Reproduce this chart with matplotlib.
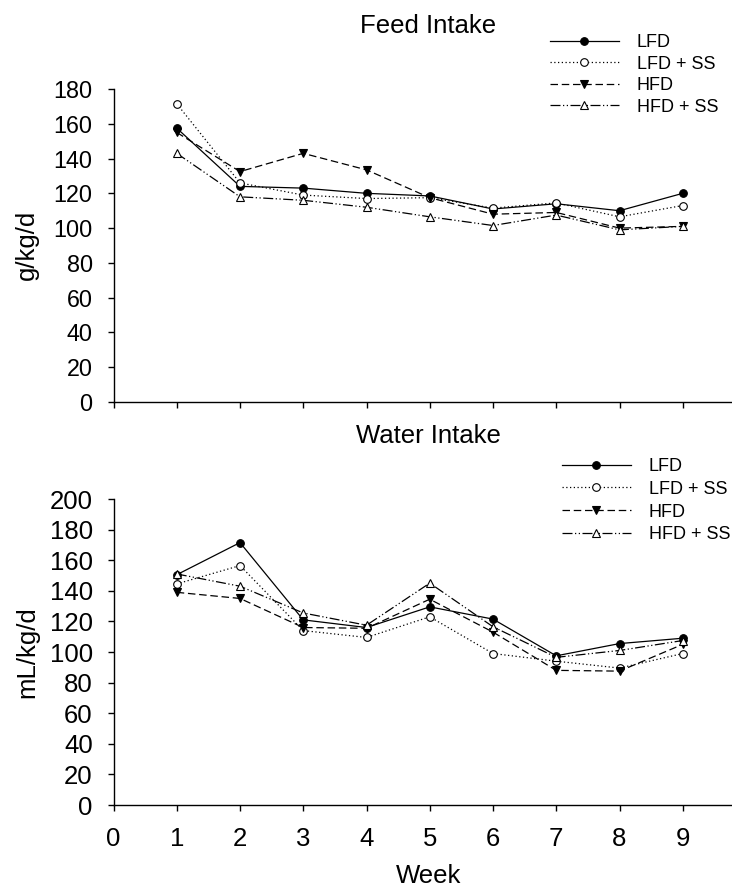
import matplotlib
matplotlib.use('Agg')
import matplotlib.pyplot as plt

# Data
weeks = [1, 2, 3, 4, 5, 6, 7, 8, 9]
labels = ['LFD', 'LFD + SS', 'HFD', 'HFD + SS']

feed_lfd = [157.5, 124, 123, 120, 118.5, 111, 114, 110, 120]
feed_lfd_ss = [171.5, 126, 119, 117, 117.5, 111.5, 114.5, 106.5, 113]
feed_hfd = [155, 132.5, 143, 133.5, 117.5, 108, 109, 100, 101]
feed_hfd_ss = [143, 118, 116, 112, 106.5, 101.5, 107.5, 99, 101]

water_lfd = [150.5, 171.5, 121, 116, 129.5, 121.5, 97.5, 105.5, 109]
water_lfd_ss = [144.5, 156.5, 114, 109.5, 123, 99, 94, 89.5, 99]
water_hfd = [139, 135, 116, 115.5, 134.5, 113, 88, 87.5, 105]
water_hfd_ss = [151, 143, 125.5, 117.5, 145, 116.5, 96.5, 101, 107.5]

# Styles
plt.rcParams['font.family'] = ['Liberation Sans', 'DejaVu Sans']
styles = [
    dict(linestyle='-', marker='o', markerfacecolor='black'),
    dict(linestyle=(0, (1, 2)), marker='o', markerfacecolor='white'),
    dict(linestyle=(0, (6, 3)), marker='v', markerfacecolor='black'),
    dict(linestyle=(0, (8, 2, 1, 2, 1, 2)), marker='^', markerfacecolor='white'),
]

W, H = 732.0, 888.0
fig = plt.figure(figsize=(W / 100, H / 100), dpi=100)
left = 113.5 / W
width = 632.5 / W
ax1 = fig.add_axes([left, 1 - 402 / H, width, 313 / H])
ax2 = fig.add_axes([left, 1 - 805 / H, width, 306 / H])


def draw(ax, series, ymax, tick_fs, legend_anchor, spacing):
    for values, st, lab in zip(series, styles, labels):
        ax.plot(weeks, values, color='black', linewidth=0.9, markersize=5.5,
                markeredgecolor='black', markeredgewidth=0.8, label=lab, **st)
    ax.set_xlim(0, 10)
    ax.set_ylim(0, ymax)
    ax.set_xticks(range(0, 11))
    ax.set_yticks(range(0, ymax + 1, 20))
    for s in ['top', 'right']:
        ax.spines[s].set_visible(False)
    for s in ['left', 'bottom']:
        ax.spines[s].set_linewidth(1.0)
    ax.tick_params(axis='y', direction='out', length=4, width=1, pad=11,
                   labelsize=tick_fs)
    ax.tick_params(axis='x', direction='out', length=4, width=1, pad=12,
                   labelsize=18.5)
    leg = ax.legend(loc='upper left', bbox_to_anchor=legend_anchor,
                    bbox_transform=fig.transFigure, frameon=False, fontsize=13,
                    handlelength=3.8, handletextpad=1.0, labelspacing=spacing,
                    borderpad=0, borderaxespad=0, numpoints=1)
    return leg


draw(ax1, [feed_lfd, feed_lfd_ss, feed_hfd, feed_hfd_ss], 180, 16.8,
     (550 / W, 1 - 34 / H), 0.25)
ax1.tick_params(axis='x', labelbottom=False)
draw(ax2, [water_lfd, water_lfd_ss, water_hfd, water_hfd_ss], 200, 18.5,
     (562 / W, 1 - 458 / H), 0.32)

fig.text(428 / W, 1 - 26 / H, 'Feed Intake', ha='center', va='center', fontsize=18.5)
fig.text(428 / W, 1 - 436 / H, 'Water Intake', ha='center', va='center', fontsize=18.5)
fig.text(27 / W, 1 - 245 / H, 'g/kg/d', ha='center', va='center', rotation=90, fontsize=18.5)
fig.text(27 / W, 1 - 652 / H, 'mL/kg/d', ha='center', va='center', rotation=90, fontsize=18.5)
fig.text(429 / W, 1 - 876 / H, 'Week', ha='center', va='center', fontsize=18.5)

fig.savefig('out.png', dpi=100)
